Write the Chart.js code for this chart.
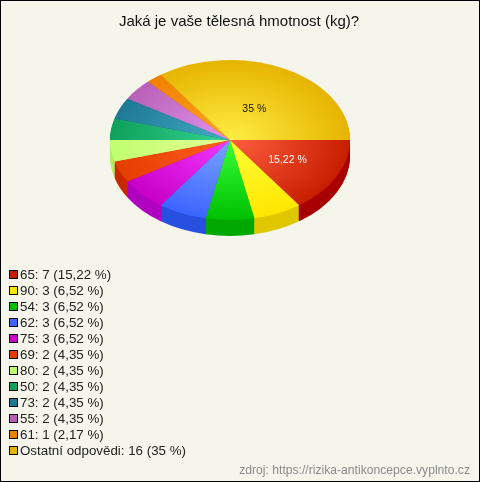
<!DOCTYPE html>
<html lang="cs">
<head>
<meta charset="utf-8">
<title>Jaká je vaše tělesná hmotnost (kg)?</title>
<script src="https://cdn.jsdelivr.net/npm/chart.js@4"></script>
<style>
  html, body { margin: 0; padding: 0; background: #f5f5ec; }
  #box { position: relative; width: 480px; height: 482px; box-sizing: border-box; border: 1px solid #000; overflow: hidden; font-family: "Liberation Sans", Arial, sans-serif; color: #222; }
  #pie { position: absolute; left: -1px; top: -1px; }
  #title { position: absolute; left: -2px; width: 480px; top: 11px; text-align: center; font-size: 15px; line-height: 18px; color: #111; }
  #legend { position: absolute; left: 7px; top: 266px; font-size: 13.33px; line-height: 16px; }
  .row { height: 16px; white-space: nowrap; }
  .sw { display: inline-block; width: 7px; height: 7px; border: 1px solid #000; margin-right: 2px; margin-left: 1px; }
  #source { position: absolute; right: 9px; top: 461px; font-size: 12.15px; line-height: 16px; color: #8a8a8a; }
</style>
</head>
<body>
<div id="box">
  <canvas id="pie" width="480" height="482"></canvas>
  <div id="title">Jaká je vaše tělesná hmotnost (kg)?</div>
  <div id="legend"></div>
  <div id="source">zdroj: https://rizika-antikoncepce.vyplnto.cz</div>
</div>
<script>
const categories = ["65", "90", "54", "62", "75", "69", "80", "50", "73", "55", "61", "Ostatní odpovědi"];
const counts = [7, 3, 3, 3, 3, 2, 2, 2, 2, 2, 1, 16];
const percents = ["15,22", "6,52", "6,52", "6,52", "6,52", "4,35", "4,35", "4,35", "4,35", "4,35", "2,17", "35"];
const innerColors = ["#ff5e40", "#ffff38", "#38ff38", "#7ca4ff", "#f438ff", "#ff6020", "#e4ff94", "#34d494", "#44acc4", "#e494ec", "#ffa422", "#ffee44"];
const outerColors = ["#c81e00", "#ffe600", "#00c000", "#3c64ff", "#c800c8", "#e63c00", "#c0ff70", "#0fa05a", "#1e7896", "#b860b8", "#f08000", "#e6b400"];
const sideColors = ["#a80000", "#e0c800", "#00a800", "#2850e0", "#b000c0", "#c82800", "#b4ec68", "#0c8048", "#186078", "#904890", "#c06000", "#b89000"];
// only these two slices carry a label on the pie
const pieLabels = { 0: { color: "#fff", radius: 0.54 }, 11: { color: "#111", radius: 0.44 } };

const squash = 2 / 3;
const depth = 16;

// tilts the flat pie into an ellipse and paints the rim under it
const tiltPlugin = {
  id: "tilt",
  beforeDatasetDraw(chart, args) {
    const { ctx } = chart;
    const arcs = args.meta.data;
    const cy = arcs[0].y;
    ctx.save();
    ctx.translate(0, cy);
    ctx.scale(1, squash);
    ctx.translate(0, -cy);
    for (let d = depth; d > 0; d--) {
      arcs.forEach((arc, i) => {
        ctx.beginPath();
        ctx.moveTo(arc.x, arc.y + d / squash);
        ctx.arc(arc.x, arc.y + d / squash, arc.outerRadius, arc.startAngle, arc.endAngle);
        ctx.closePath();
        ctx.fillStyle = sideColors[i];
        ctx.fill();
      });
    }
  },
  afterDatasetDraw(chart, args) {
    const { ctx } = chart;
    ctx.restore();
    ctx.save();
    ctx.font = "10.5px 'Liberation Sans', Arial, sans-serif";
    ctx.textAlign = "center";
    ctx.textBaseline = "middle";
    args.meta.data.forEach((arc, i) => {
      const label = pieLabels[i];
      if (!label) return;
      const mid = (arc.startAngle + arc.endAngle) / 2;
      const r = arc.outerRadius * label.radius;
      ctx.fillStyle = label.color;
      ctx.fillText(`${percents[i]} %`, arc.x + Math.cos(mid) * r, arc.y + Math.sin(mid) * r * squash);
    });
    ctx.restore();
  }
};

new Chart(document.getElementById("pie"), {
  type: "pie",
  data: {
    labels: categories,
    datasets: [{
      data: counts,
      borderWidth: 0,
      backgroundColor: context => {
        const area = context.chart.chartArea;
        if (!area) return outerColors[context.dataIndex];
        const cx = (area.left + area.right) / 2;
        const cy = (area.top + area.bottom) / 2;
        const g = context.chart.ctx.createRadialGradient(cx, cy, 0, cx, cy, (area.right - area.left) / 2);
        g.addColorStop(0, innerColors[context.dataIndex]);
        g.addColorStop(1, outerColors[context.dataIndex]);
        return g;
      }
    }]
  },
  options: {
    responsive: false,
    animation: false,
    rotation: 90,
    layout: { padding: { left: 110, right: 130, top: 20, bottom: 222 } },
    plugins: { legend: { display: false }, tooltip: { enabled: false } },
    events: []
  },
  plugins: [tiltPlugin]
});

document.getElementById("legend").innerHTML = categories.map((name, i) => `
  <div class="row"><span class="sw" style="background:${outerColors[i]}"></span>${name}: ${counts[i]} (${percents[i]} %)</div>
`).join("");
</script>
</body>
</html>
